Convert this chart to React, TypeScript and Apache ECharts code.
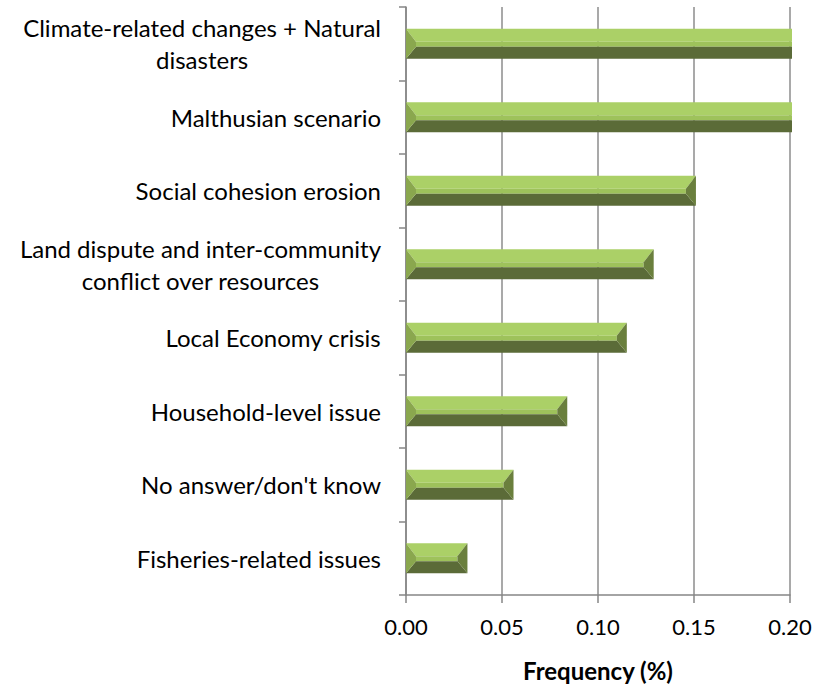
import React, { useEffect, useRef } from "react";
import * as echarts from "echarts";

const categories: string[][] = [
  ["Climate-related changes + Natural", "disasters"],
  ["Malthusian scenario"],
  ["Social cohesion erosion"],
  ["Land dispute and inter-community", "conflict over resources"],
  ["Local Economy crisis"],
  ["Household-level issue"],
  ["No answer/don't know"],
  ["Fisheries-related issues"],
];
const values: number[] = [0.21, 0.21, 0.151, 0.129, 0.115, 0.084, 0.056, 0.032];
const xTicks: number[] = [0, 0.05, 0.1, 0.15, 0.2];
const X_MAX = 0.2;
const FONT = "Lato";

export default function App() {
  const ref = useRef<HTMLDivElement>(null);
  useEffect(() => {
    document.body.style.margin = "0";
    const chart = echarts.init(ref.current!, null, { renderer: "svg" });
    const labels = categories.map((c) => c.join("\n"));
    chart.setOption({
      animation: false,
      grid: { left: 406, right: 26, top: 7, bottom: 93, outerBoundsMode: "none", containLabel: false },
      xAxis: {
        type: "value",
        min: 0,
        max: X_MAX,
        interval: 0.05,
        name: "Frequency (%)",
        nameLocation: "middle",
        nameGap: 63,
        nameTextStyle: { fontFamily: FONT, fontSize: 24, fontWeight: "bold", color: "#000" },
        axisLine: { show: true, lineStyle: { color: "#868686", width: 1.5 } },
        axisTick: { show: true, length: 8, lineStyle: { color: "#868686", width: 1.5 } },
        axisLabel: {
          fontFamily: FONT,
          fontSize: 22,
          color: "#000",
          margin: 20,
          formatter: (v: number) => v.toFixed(2),
        },
        splitLine: { show: true, lineStyle: { color: "#8c8c8c", width: 1.5 } },
      },
      yAxis: {
        type: "category",
        inverse: true,
        data: labels,
        axisLine: { show: true, lineStyle: { color: "#868686", width: 1.5 } },
        axisTick: { show: true, length: 7, lineStyle: { color: "#868686", width: 1.5 } },
        axisLabel: {
          fontFamily: FONT,
          fontSize: 24,
          color: "#000",
          margin: 25,
          align: "right",
          formatter: (v: string) =>
            v
              .split("\n")
              .map((l) => "{c|" + l + "}")
              .join("\n"),
          rich: {
            c: { fontFamily: FONT, fontSize: 24, color: "#000", align: "center", lineHeight: 32 },
          },
        },
      },
      series: [
        {
          type: "custom",
          encode: { x: 0, y: 1 },
          data: values.map((v, i) => [v, i]),
          renderItem: (params: any, api: any) => {
            const v = api.value(0);
            const c = api.value(1);
            const p0 = api.coord([0, c]);
            const p1 = api.coord([v, c]);
            const limit = api.coord([X_MAX, c])[0] + 2;
            const clipped = p1[0] > limit;
            const x0 = p0[0];
            const x1 = clipped ? limit : p1[0];
            const h = api.size([0, 1])[1] * 0.41;
            const yT = p0[1] - h / 2;
            const yB = p0[1] + h / 2;
            const d = Math.min(10, (x1 - x0) / 2);
            const yM1 = yT + h * 0.43;
            const yM2 = yT + h * 0.6;
            const xr = clipped ? x1 : x1 - d;
            const poly = (pts: number[][], fill: string) => ({
              type: "polygon",
              shape: { points: pts },
              style: { fill, stroke: null },
            });
            const children: any[] = [
              poly([[x0, yT], [x1, yT], [xr, yM1], [x0 + d, yM1]], "#abd067"),
              poly([[x0 + d, yM1], [xr, yM1], [xr, yM2], [x0 + d, yM2]], "#9ec25b"),
              poly([[x0 + d, yM2], [xr, yM2], [x1, yB], [x0, yB]], "#5b6b38"),
              poly([[x0, yT], [x0 + d, yM1], [x0 + d, yM2], [x0, yB]], "#8aa74e"),
            ];
            if (!clipped) {
              children.push(poly([[x1, yT], [x1, yB], [xr, yM2], [xr, yM1]], "#6a7f3d"));
            }
            return { type: "group", children };
          },
        },
      ],
    });
    return () => chart.dispose();
  }, []);
  return <div ref={ref} style={{ width: 816, height: 688 }} />;
}
